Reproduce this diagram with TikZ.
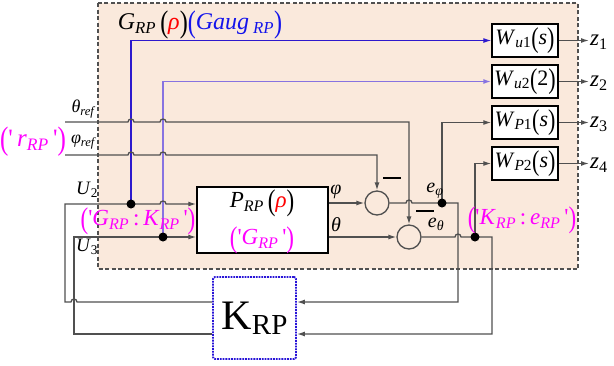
\documentclass[tikz,border=0pt]{standalone}
\usepackage{fontspec}
\setmainfont{Liberation Serif}
\usepackage{xcolor}
\usetikzlibrary{arrows.meta,positioning,calc}
\definecolor{bgpeach}{RGB}{250,233,220}
\definecolor{lngray} {RGB}{80, 80, 80}
\definecolor{gblue}  {RGB}{45, 25,205}
\definecolor{gbluel} {RGB}{135,115,225}
\definecolor{tblue}  {RGB}{20, 20,235}
\definecolor{kblue}  {RGB}{40, 20,215}
\definecolor{pmag}   {RGB}{255, 0,255}
\newcommand\lo[1]{\textsubscript{\itshape #1}}
\newcommand\lp{\raisebox{-0.12em}{\scalebox{1}[1.3]{(}}}
\newcommand\rp{\raisebox{-0.12em}{\scalebox{1}[1.3]{)}}}
\newcommand\fs[1]{\fontsize{#1}{#1}\selectfont}
\newcommand\sq{\textquotesingle}
\newcommand\hopat[2]{-- ([xshift=-3pt]#1 |- #2) arc[start angle=180,end angle=0,radius=3pt]}
\newcommand\hopl[2]{-- ([xshift=3pt]#1 |- #2) arc[start angle=0,end angle=180,radius=3pt]}
\tikzset{
  ln/.style={draw=lngray,line width=1.3pt},
  arr/.style={ln,-{Latex[length=8pt,width=5pt]}},
  barr/.style={arr,draw=gblue,line width=1.1pt},
  barrl/.style={arr,draw=gbluel,line width=1.5pt},
  wbox/.style={draw=black,line width=1.4pt,fill=white,minimum width=66pt,
               minimum height=33pt,inner sep=0pt,font=\fs{22}},
  pbox/.style={draw=black,line width=1.4pt,fill=white,minimum width=131pt,
               minimum height=66pt,inner sep=0pt},
  kbox/.style={draw=kblue,line width=1.8pt,densely dotted,fill=white,
               rounded corners=2pt,minimum width=83pt,minimum height=82pt,
               inner sep=0pt},
  sumc/.style={circle,draw=lngray,line width=1.3pt,minimum size=24pt,inner sep=0pt},
  minus/.style={fill=black,minimum width=18pt,minimum height=2.2pt,inner sep=0pt},
  lbl/.style={inner sep=0pt,font=\fs{18}},
  mlbl/.style={inner sep=0pt,text=pmag,font=\fs{23}},
  zlbl/.style={anchor=west,inner sep=1pt,font=\fs{23}},
}
\begin{document}
\begin{tikzpicture}[x=1pt,y=-1pt]
  \useasboundingbox (0,0) rectangle (614,365);
  \draw[lngray,line width=1.1pt,dash pattern=on 4pt off 2.5pt,fill=bgpeach] (98,3) rectangle (578,269);

  \node[font=\fs{24}] (TTL) at (200,25) {\textit{G}\lo{RP}\,\lp\textcolor{red}{\textit{ρ}}\rp\textcolor{tblue}{\lp\textit{Gaug}\,\lo{RP}\rp}};

  \node[pbox](PRP) at (262.5,220) {};
  \node[font=\fs{23}] (PTX) at (262,203) {\textit{P}\lo{RP}\,\lp\textcolor{red}{\textit{ρ}}\rp};
  \node[mlbl] (PMG) at (262,240) {\lp\sq\textit{G}\lo{RP}\,\sq\rp};
  \node[sumc](S1) at (377,203) {};
  \node[sumc](S2) at (409,237) {};
  \node[minus](M1) at (392,178) {};
  \node[minus](M2) at (425,211) {};
  \node[wbox](WU1) at (525,40.5) {\textit{W}\textsubscript{\textit{u}1}\lp\textit{s}\rp};
  \node[wbox](WU2) at (525,81.5) {\textit{W}\textsubscript{\textit{u}2}\lp2\rp};
  \node[wbox](WP1) at (525,122.5) {\textit{W}\textsubscript{\textit{P}1}\lp\textit{s}\rp};
  \node[wbox](WP2) at (525,163.5) {\textit{W}\textsubscript{\textit{P}2}\lp\textit{s}\rp};
  \node[kbox](KRP) at (254.5,318) {{\fs{42}K}{\fs{29}\raisebox{-5pt}{RP}}};
  \node[zlbl](Z1) at (589,42) {\textit{z}\textsubscript{1}};
  \node[zlbl](Z2) at (589,83) {\textit{z}\textsubscript{2}};
  \node[zlbl](Z3) at (589,124) {\textit{z}\textsubscript{3}};
  \node[zlbl](Z4) at (589,165) {\textit{z}\textsubscript{4}};

  \coordinate (THR) at (65,122);
  \coordinate (PHR) at (65,155);
  \coordinate (L2) at (65,204);
  \coordinate (L3) at (74,237);
  \coordinate (D1) at (131,204);
  \coordinate (D2) at (163,237);
  \coordinate (D3) at (442,203);
  \coordinate (D4) at (475,237);
  \coordinate (R1) at (458,203);
  \coordinate (R2) at (492,237);
  \coordinate (KL1) at ([yshift=16pt]KRP.west);
  \coordinate (KL2) at ([yshift=-16pt]KRP.west);
  \coordinate (KR1) at ([yshift=16pt]KRP.east);
  \coordinate (KR2) at ([yshift=-16pt]KRP.east);

  \draw[barr] (D1) |- (WU1.west);
  \draw[barrl] (D2) |- (WU2.west);
  \draw[arr] (THR) \hopat{D1}{THR} \hopat{D2}{THR} -| (S2.north);
  \draw[arr] (PHR) \hopat{D1}{PHR} \hopat{D2}{PHR} -| (S1.north);
  \draw[arr] (KL1) \hopl{L3}{KL1} -| (L2) -- (D1) \hopat{D2}{L2} -- (PRP.west |- L2);
  \draw[arr] (KL2) -| (L3) -- (D2) -- (PRP.west |- L3);
  \draw[arr] (PRP.east |- S1) -- (S1.west);
  \draw[arr] (PRP.east |- S2) -- (S2.west);
  \draw[arr] (S1.east) \hopat{S2}{S1} -- (D3) -- (R1) |- (KR1);
  \draw[arr] (S2.east) \hopat{R1}{S2} -- (D4) -- (R2) |- (KR2);
  \draw[arr] (D3) |- (WP1.west);
  \draw[arr] (D4) |- (WP2.west);
  \draw[arr] (WU1.east) -- (WU1.east -| Z1.west);
  \draw[arr] (WU2.east) -- (WU2.east -| Z2.west);
  \draw[arr] (WP1.east) -- (WP1.east -| Z3.west);
  \draw[arr] (WP2.east) -- (WP2.east -| Z4.west);
  \fill (D1) circle (4.5pt);
  \fill (D2) circle (4.5pt);
  \fill (D3) circle (4.5pt);
  \fill (D4) circle (4.5pt);

  \node[lbl] (THL) at (83,109) {\textit{θ}\lo{ref}};
  \node[lbl] (PHL) at (83,142) {\textit{φ}\lo{ref}};
  \node[mlbl,font=\fs{25}] (RRP) at (33,142) {\lp\sq\,\textit{r}\lo{RP}\,\sq\rp};
  \node[lbl,font=\fs{19}] (U2L) at (87,190) {\textit{U}\textsubscript{2}};
  \node[lbl,font=\fs{19}] (U3L) at (87,247) {\textit{U}\textsubscript{3}};
  \node[mlbl] (GKL) at (138,221) {\lp\sq\textit{G}\lo{RP}\,:\,\textit{K}\lo{RP}\,\sq\rp};
  \node[lbl,font=\fs{20}] (PHI) at (336,192) {\textit{φ}};
  \node[lbl,font=\fs{20}] (THE) at (336,225) {\textit{θ}};
  \node[lbl,font=\fs{20}] (EPH) at (435,191) {\textit{e}\textsubscript{\textit{φ}}};
  \node[lbl,font=\fs{20}] (ETH) at (436,224) {\textit{e}\textsubscript{\textit{θ}}};
  \node[mlbl] (KEL) at (522,220) {\lp\sq\textit{K}\lo{RP}\,:\,\textit{e}\lo{RP}\,\sq\rp};
\end{tikzpicture}
\end{document}
